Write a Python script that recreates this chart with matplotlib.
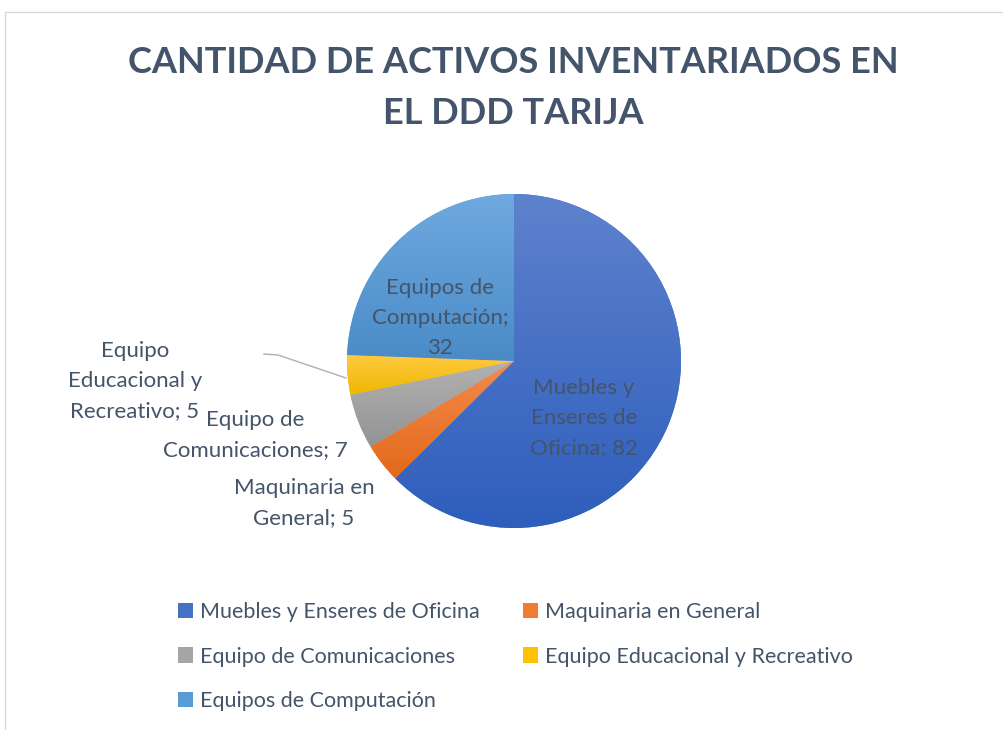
import numpy as np
import matplotlib
matplotlib.use("Agg")
import matplotlib.pyplot as plt
from matplotlib.colors import LinearSegmentedColormap
from matplotlib.patches import Patch, Rectangle

categories = ["Muebles y Enseres de Oficina", "Maquinaria en General",
              "Equipo de Comunicaciones", "Equipo Educacional y Recreativo",
              "Equipos de Computación"]
values = [82, 5, 7, 5, 32]
label_text = ["Muebles y\nEnseres de\nOficina; 82", "Maquinaria en\nGeneral; 5",
              "Equipo de\nComunicaciones; 7", "Equipo\nEducacional y\nRecreativo; 5",
              "Equipos de\nComputación;\n32"]

# gradient colours (top, bottom) per slice
grad = [("#5E82CD", "#2E5EBC"), ("#F58B4C", "#E2691B"), ("#B2B2B2", "#939393"),
        ("#FFCB40", "#F0B500"), ("#6FA9DF", "#4A8BC7")]
mid = ["#4472C4", "#ED7D31", "#A5A5A5", "#FFC000", "#5B9BD5"]

plt.rcParams['font.family'] = ['Lato', 'DejaVu Sans']
txt = "#44546A"

W, H = 1004, 730
cx, cy, R = 514, 361, 167.0
fig = plt.figure(figsize=(W / 100, H / 100), dpi=100)
ax = fig.add_axes([0, 0, 1, 1])


def px(x, y):
    return (x - cx) / R, (cy - y) / R


wedges, _ = ax.pie(values, startangle=90, counterclock=False, radius=1,
                   colors=mid, wedgeprops=dict(linewidth=0))

for w, (top, bot) in zip(wedges, grad):
    ext = w.get_path().get_extents()
    cmap = LinearSegmentedColormap.from_list("", [top, bot])
    ax.imshow(np.linspace(0, 1, 256).reshape(-1, 1), cmap=cmap, origin="upper",
              extent=[ext.x0, ext.x1, ext.y0, ext.y1], aspect="auto",
              clip_path=w, zorder=2, interpolation="bilinear")

ax.set_xlim(-cx / R, (W - cx) / R)
ax.set_ylim((cy - H) / R, cy / R)
ax.set_aspect("auto")
ax.axis("off")

# data labels
label_pos = [(584, 418), (304, 503), (255, 435), (135, 381), (440, 318)]
for t, (x, y) in zip(label_text, label_pos):
    ax.text(*px(x, y), t, ha="center", va="center", fontsize=16, color=txt,
            linespacing=1.6, zorder=5)

# leader line for small slice
lx, ly = zip(px(264, 354), px(278, 355), px(346, 378))
ax.plot(lx, ly, color="#A6B0BE", lw=1, zorder=4)

fig.suptitle("CANTIDAD DE ACTIVOS INVENTARIADOS EN\nEL DDD TARIJA", x=513 / W,
             y=1 - 46 / H, va="top", fontsize=26, fontweight="bold", color=txt,
             linespacing=1.65)

# chart border
fig.patches.append(Rectangle((5 / W, -0.05), 1.1, 1.05 - 12 / H, transform=fig.transFigure,
                             fill=False, edgecolor="#D9D9D9", lw=1))

order = [0, 2, 4, 1, 3]
handles = [Patch(facecolor=mid[i], edgecolor="none") for i in order]
fig.legend(handles, [categories[i] for i in order], ncol=2, loc="upper left",
           bbox_to_anchor=(167 / W, 1 - 591 / H), frameon=False, fontsize=15.5,
           handlelength=0.7, handleheight=0.7, handletextpad=0.35,
           labelspacing=1.15, columnspacing=1.97, borderpad=0, labelcolor=txt)

fig.savefig("out.png", dpi=100)
